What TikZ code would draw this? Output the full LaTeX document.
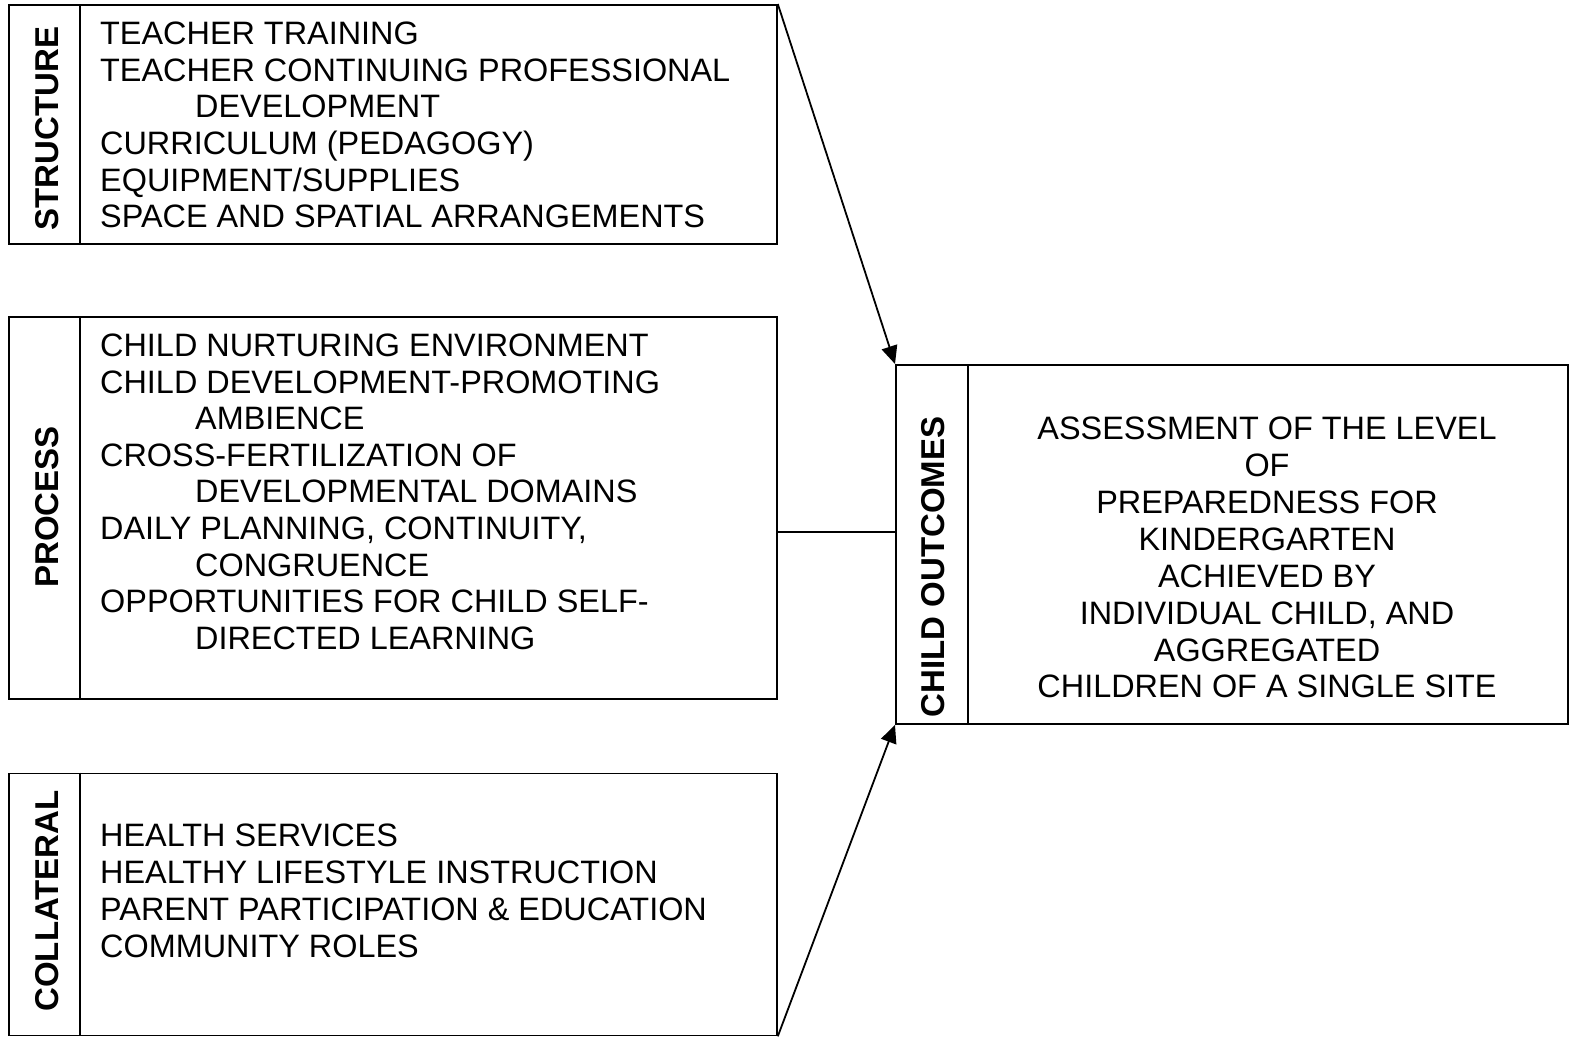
\documentclass[tikz,border=0pt]{standalone}
\usepackage{fontspec}
\setmainfont{Liberation Sans}
\usetikzlibrary{arrows.meta}
\begin{document}
\begin{tikzpicture}[x=1pt,y=-1pt,
  box/.style={draw, line width=1.8pt, rectangle, inner sep=0pt, anchor=north west},
  body/.style={anchor=north west, inner sep=0pt, align=left, font=\fontsize{32.4}{36.6}\selectfont},
  rbody/.style={anchor=north, inner sep=0pt, align=center, font=\fontsize{32.4}{36.9}\selectfont},
  lbl/.style={rotate=90, inner sep=0pt, font=\fontsize{33}{36.7}\selectfont\bfseries},
  conn/.style={line width=1.8pt},
  arr/.style={line width=1.8pt, -{Triangle[length=18pt,width=16pt]}}
]
\useasboundingbox (0,0) rectangle (1571,1036);
% boxes
\node[box, minimum width=768pt, minimum height=239pt] (sbox) at (8,4) {};
\node[box, minimum width=768pt, minimum height=382pt] (pbox) at (8,316) {};
\node[box, minimum width=768pt, minimum height=262pt] (cbox) at (8,772.5) {};
\node[box, minimum width=672pt, minimum height=359pt] (obox) at (895,364) {};
% dividers
\draw[conn] (80,4) -- (80,243);
\draw[conn] (80,316) -- (80,698);
\draw[conn] (80,772.5) -- (80,1034.5);
\draw[conn] (968,364) -- (968,723);
% labels
\node[lbl] (slbl) at (47,128.5) {STRUCTURE};
\node[lbl] (plbl) at (47,507) {PROCESS};
\node[lbl] (clbl) at (47,901) {COLLATERAL};
\node[lbl] (olbl) at (933,567) {CHILD OUTCOMES};
% texts
\node[body] (stxt) at (100,21.8) {TEACHER TRAINING\\
TEACHER CONTINUING PROFESSIONAL\\
\hspace*{95pt}DEVELOPMENT\\
CURRICULUM (PEDAGOGY)\\
EQUIPMENT/SUPPLIES\\
SPACE AND SPATIAL ARRANGEMENTS};
\node[body] (ptxt) at (100,333.6) {CHILD NURTURING ENVIRONMENT\\
CHILD DEVELOPMENT-PROMOTING\\
\hspace*{95pt}AMBIENCE\\
CROSS-FERTILIZATION OF\\
\hspace*{95pt}DEVELOPMENTAL DOMAINS\\
DAILY PLANNING, CONTINUITY,\\
\hspace*{95pt}CONGRUENCE\\
OPPORTUNITIES FOR CHILD SELF-\\
\hspace*{95pt}DIRECTED LEARNING};
\node[body, font=\fontsize{32.4}{37}\selectfont] (ctxt) at (100,823.6) {HEALTH SERVICES\\
HEALTHY LIFESTYLE INSTRUCTION\\
PARENT PARTICIPATION \& EDUCATION\\
COMMUNITY ROLES};
\node[rbody] (otxt) at (1267,416.8) {ASSESSMENT OF THE LEVEL\\
OF\\
PREPAREDNESS FOR\\
KINDERGARTEN\\
ACHIEVED BY\\
INDIVIDUAL CHILD, AND\\
AGGREGATED\\
CHILDREN OF A SINGLE SITE};
% connectors
\coordinate (pout) at (776,532);
\coordinate (oin) at (895,532);
\draw[arr] (sbox.north east) -- (obox.north west);
\draw[arr] (cbox.south east) -- (obox.south west);
\draw[conn] (pout) -- (oin);
\end{tikzpicture}
\end{document}
